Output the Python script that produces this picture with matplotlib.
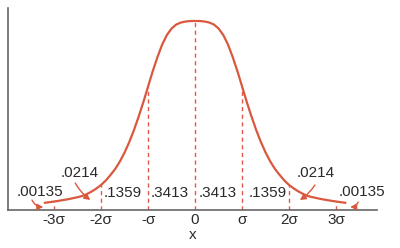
#!/usr/bin/env python

import matplotlib
matplotlib.use('Agg')
import matplotlib.pyplot as plt
import numpy as np

# curve heights (x in sigma units, right half; mirrored)
X_HALF = [0.0, 0.1, 0.2, 0.3, 0.4, 0.5, 0.6, 0.7, 0.8, 0.9, 1.0,
          1.1, 1.2, 1.3, 1.4, 1.5, 1.6, 1.7, 1.8, 1.9, 2.0,
          2.1, 2.2, 2.3, 2.4, 2.5, 2.6, 2.7, 2.8, 2.9, 3.0, 3.1, 3.2]
H_HALF = [189, 189, 188.5, 187.5, 185.5, 181.5, 175, 165.5, 153, 139, 123.5,
          108, 93.5, 80, 68, 57.5, 48.5, 41, 35, 29.5, 25,
          21.5, 18.5, 16, 14, 12.8, 11.8, 10.8, 10, 9.2, 8.5, 7.8, 7.2]

TICKS = [-3, -2, -1, 0, 1, 2, 3]
TICK_LABELS = ['-3\u03c3', '-2\u03c3', '-\u03c3', '0', '\u03c3', '2\u03c3', '3\u03c3']

# area labels inside the curve
AREA_X = [-1.54, -0.55, 0.49, 1.54]
AREA_TXT = ['.1359', '.3413', '.3413', '.1359']

CURVE_COL = '#d9583e'
DASH_COL = '#e2574c'
TEXT_COL = '#2a2a2a'
FS = 11


def main():
    x = np.array([-v for v in X_HALF[:0:-1]] + X_HALF)
    h = np.array(H_HALF[:0:-1] + H_HALF)

    plt.rcParams['font.family'] = ['Liberation Sans', 'DejaVu Sans']
    fig = plt.figure(figsize=(4, 2.48), dpi=100)
    ax = fig.add_axes([0.02, 0.1532, 0.9225, 0.8145])

    ax.plot(x, h, color=CURVE_COL, lw=1.6, solid_joinstyle='round',
            solid_capstyle='round')

    # dashed verticals up to the curve
    for t in TICKS:
        top = h[np.argmin(np.abs(x - t))]
        ax.plot([t, t], [0, top], ls=(0, (3, 2.5)), color=DASH_COL, lw=1.0)

    for xx, s in zip(AREA_X, AREA_TXT):
        ax.text(xx, 17.5, s, ha='center', va='center', fontsize=FS,
                color=TEXT_COL)

    ax.text(-3.30, 18, '.00135', ha='center', va='center', fontsize=FS,
            color=TEXT_COL)
    ax.text(3.54, 18, '.00135', ha='center', va='center', fontsize=FS,
            color=TEXT_COL)
    ax.text(-2.45, 37, '.0214', ha='center', va='center', fontsize=FS,
            color=TEXT_COL)
    ax.text(2.56, 37, '.0214', ha='center', va='center', fontsize=FS,
            color=TEXT_COL)

    arrow = dict(arrowstyle='-|>,head_length=0.35,head_width=0.18',
                 color=CURVE_COL, lw=1.0, shrinkA=0, shrinkB=0)
    ax.annotate('', xy=(-3.23, 3), xytext=(-3.47, 10),
                arrowprops=dict(arrow, connectionstyle='arc3,rad=0.3'))
    ax.annotate('', xy=(-2.23, 10), xytext=(-2.55, 27),
                arrowprops=dict(arrow, connectionstyle='arc3,rad=0.1'))
    ax.annotate('', xy=(2.23, 10), xytext=(2.55, 25),
                arrowprops=dict(arrow, connectionstyle='arc3,rad=-0.1'))
    ax.annotate('', xy=(3.30, 3), xytext=(3.47, 8),
                arrowprops=dict(arrow, connectionstyle='arc3,rad=-0.3'))

    ax.set_xlim(-3.98, 3.87)
    ax.set_ylim(0, 202)
    ax.set_xticks(TICKS)
    ax.set_xticklabels(TICK_LABELS)
    ax.set_yticks([])
    ax.tick_params(axis='x', length=0, pad=2.5, labelsize=FS,
                   labelcolor=TEXT_COL)
    ax.set_xlabel('x', fontsize=FS, color=TEXT_COL, labelpad=0.5)
    for side in ['top', 'right']:
        ax.spines[side].set_visible(False)
    for side in ['left', 'bottom']:
        ax.spines[side].set_color('#666666')
        ax.spines[side].set_linewidth(1.2)

    fig.savefig('out.png', dpi=100)


if __name__ == '__main__':
    main()
